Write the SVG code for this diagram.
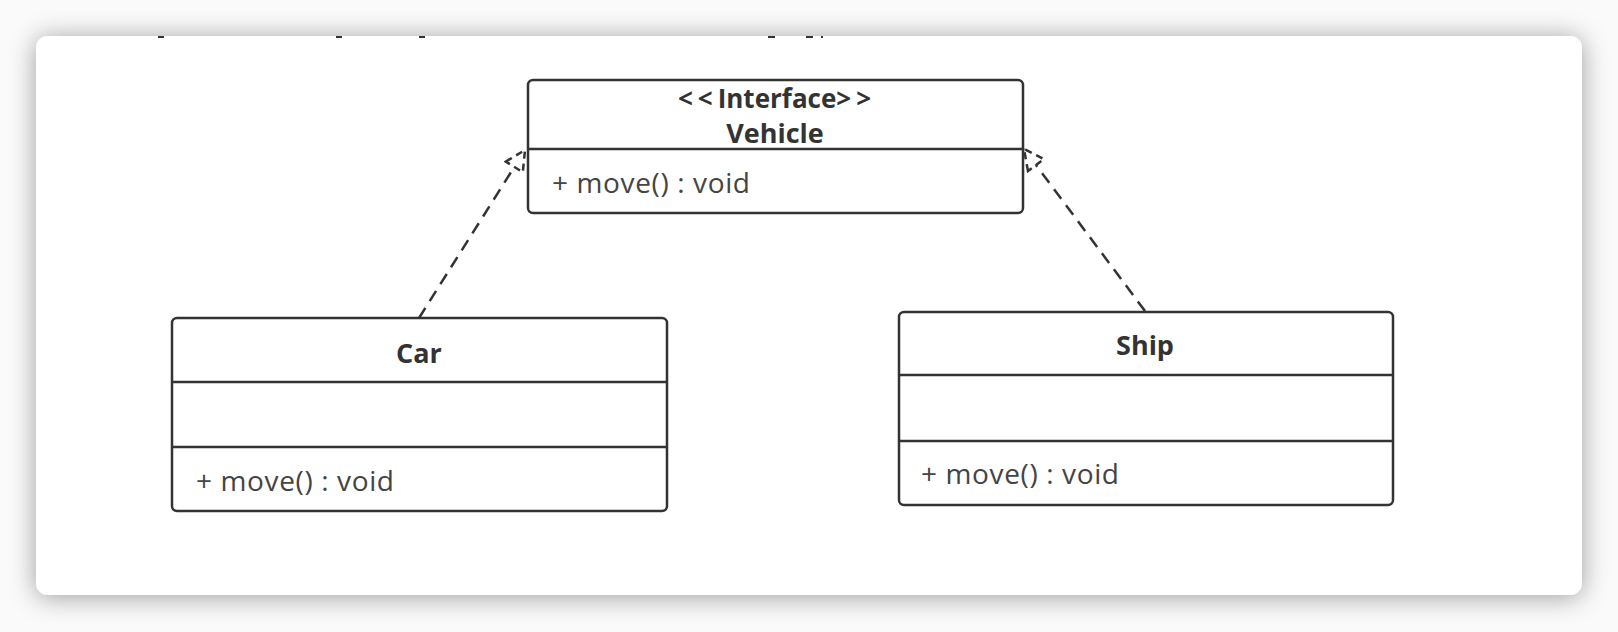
<svg xmlns="http://www.w3.org/2000/svg" width="1618" height="632" viewBox="0 0 1618 632">
  <defs>
    <filter id="shadow" x="-10%" y="-20%" width="120%" height="140%">
      <feDropShadow dx="0" dy="2" stdDeviation="13" flood-color="#000" flood-opacity="0.38"/>
    </filter>
    <marker id="realize" viewBox="0 0 24 24" refX="22" refY="12" markerWidth="24" markerHeight="24" markerUnits="userSpaceOnUse" orient="auto">
      <path d="M2 2 L22 12 L2 22 Z" fill="#fff" stroke="#333" stroke-width="2.5" stroke-dasharray="7 5"/>
    </marker>
    <style>
      .box { fill: #fff; stroke: #333; stroke-width: 2.5; }
      .div { stroke: #333; stroke-width: 2.5; }
      .title { font-family: "Open Sans", "Noto Sans", sans-serif; font-weight: bold; font-size: 27px; fill: #333; text-anchor: middle; }
      .stereo { font-size: 26px; }
      .br { letter-spacing: 5px; }
      .member { font-family: "Open Sans", "Noto Sans", sans-serif; font-size: 28px; fill: #444; }
      .conn { fill: none; stroke: #333; stroke-width: 2.5; stroke-dasharray: 12 8; }
      .frag { fill: #333; }
    </style>
  </defs>

  <rect x="0" y="0" width="1618" height="632" fill="#fafafa"/>
  <rect x="36" y="36" width="1546" height="559" rx="12" ry="12" fill="#fff" filter="url(#shadow)"/>

  <g id="fragments">
    <rect class="frag" x="158" y="36" width="6" height="2"/>
    <rect class="frag" x="336" y="36" width="6" height="2"/>
    <rect class="frag" x="419" y="36" width="6" height="2"/>
    <rect class="frag" x="768" y="36" width="7" height="2"/>
    <rect class="frag" x="806" y="36" width="7" height="2"/>
    <rect class="frag" x="821" y="36" width="2" height="2"/>
  </g>

  <g id="connectors">
    <path class="conn" d="M419 318 L525 150" marker-end="url(#realize)"/>
    <path class="conn" d="M1145 311 L1024 149" marker-end="url(#realize)"/>
  </g>

  <g id="vehicle">
    <rect class="box" x="528" y="80" width="495" height="133" rx="5" ry="5"/>
    <line class="div" x1="528" y1="149" x2="1023" y2="149"/>
    <text class="title stereo" x="777" y="108"><tspan class="br">&lt;&lt;</tspan>Interface<tspan class="br">&gt;&gt;</tspan></text>
    <text class="title" x="775" y="143">Vehicle</text>
    <text class="member" x="552" y="193" textLength="198" lengthAdjust="spacing">+ move() : void</text>
  </g>

  <g id="car">
    <rect class="box" x="172" y="318" width="495" height="193" rx="5" ry="5"/>
    <line class="div" x1="172" y1="382" x2="667" y2="382"/>
    <line class="div" x1="172" y1="447" x2="667" y2="447"/>
    <text class="title" x="419" y="363">Car</text>
    <text class="member" x="196" y="491" textLength="198" lengthAdjust="spacing">+ move() : void</text>
  </g>

  <g id="ship">
    <rect class="box" x="899" y="312" width="494" height="193" rx="5" ry="5"/>
    <line class="div" x1="899" y1="375" x2="1393" y2="375"/>
    <line class="div" x1="899" y1="441" x2="1393" y2="441"/>
    <text class="title" x="1145" y="355">Ship</text>
    <text class="member" x="921" y="484" textLength="198" lengthAdjust="spacing">+ move() : void</text>
  </g>
</svg>
